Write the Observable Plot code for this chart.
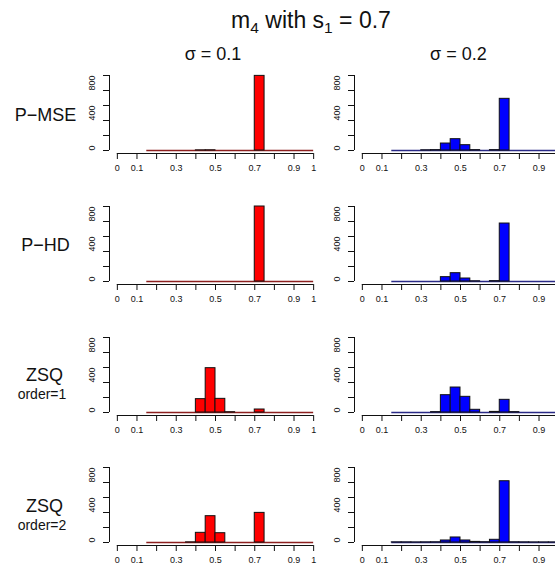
<!DOCTYPE html>
<html><head><meta charset="utf-8">
<script src="https://cdn.jsdelivr.net/npm/d3@7"></script>
<script src="https://cdn.jsdelivr.net/npm/@observablehq/plot@0.6"></script>
<style>
html,body{margin:0;padding:0;background:#fff;overflow:hidden;}
#wrap{position:relative;width:555px;height:570px;overflow:hidden;font-family:"Liberation Sans",Arial,Helvetica,sans-serif;background:#fff;}
.panel{position:absolute;width:257px;height:116px;}
#labels{position:absolute;left:0;top:0;pointer-events:none;}
</style></head><body><div id="wrap"></div>
<script>
// histogram bin edges (width 0.05)
const binEdges = [0.15,0.20,0.25,0.30,0.35,0.40,0.45,0.50,0.55,0.60,0.65,0.70,0.75,0.80,0.85,0.90,0.95,1.00];
// counts per bin (17 bins)
const pmse_s01 = [0,0,0,0,0,2,3,0,0,0,0,995,0,0,0,0,0];
const pmse_s02 = [0,0,0,3,5,93,151,71,5,0,5,689,0,0,0,0,0];
const phd_s01  = [0,0,0,0,0,0,0,0,0,0,0,1000,0,0,0,0,0];
const phd_s02  = [0,0,0,0,0,58,111,40,3,0,5,773,0,0,0,0,0];
const zsq1_s01 = [0,0,0,0,0,178,591,182,4,0,0,40,0,0,0,0,0];
const zsq1_s02 = [0,0,0,0,5,231,333,209,36,0,8,169,5,0,0,0,0];
const zsq2_s01 = [0,0,0,0,2,129,351,124,0,0,0,395,0,0,0,0,0];
const zsq2_s02 = [2,2,1,2,3,27,67,27,8,4,36,817,3,2,1,1,1];

const methods = ["P\u2212MSE","P\u2212HD","ZSQ","ZSQ"];
const methodSub = ["","","order=1","order=2"];
const sigmaLabels = ["\u03c3 = 0.1","\u03c3 = 0.2"];
const fills = ["#ff0000","#0000ff"];
const baseColors = ["#8c1f1f","#2a2a86"];
const xTicks = [0,0.1,0.2,0.3,0.4,0.5,0.6,0.7,0.8,0.9,1];
const xTickLabels = ["0","0.1","","0.3","","0.5","","0.7","","0.9","1"];
const yTicks = [0,200,400,600,800,1000];
const yTickLabels = ["0","","400","","800",""];

const counts = [[pmse_s01,pmse_s02],[phd_s01,phd_s02],[zsq1_s01,zsq1_s02],[zsq2_s01,zsq2_s02]];

const wrap = document.getElementById("wrap");
const font = '"Liberation Sans",Arial,Helvetica,sans-serif';
const W = 555;
const colStep = 245.4, rowStep = 130.6, left0 = 69, top0 = 67.3;
const pw = 257, mL = 40, mR = 5;
const xr = xTicks[xTicks.length-1]-xTicks[0], yr = yTicks[yTicks.length-1]-yTicks[0];
const xDom = [xTicks[0]-0.04*xr, xTicks[xTicks.length-1]+0.04*xr];
const yDom = [yTicks[0]-0.04*yr, yTicks[yTicks.length-1]+0.04*yr];

counts.forEach((row, r) => {
  row.forEach((vals, c) => {
    const left = left0 + c*colStep;
    const data = vals.map((n,i) => ({x1: binEdges[i], x2: binEdges[i+1], n}));
    // labels that would fall outside the window are not drawn (clipped in the reference)
    const xl = xTicks.map((v,i) => ({v, t: xTickLabels[i]})).filter(d => d.t &&
      left + mL + (d.v - xDom[0]) / (xDom[1]-xDom[0]) * (pw-mL-mR) + 3 < W);
    const yl = yTicks.map((v,i) => ({v, t: yTickLabels[i]})).filter(d => d.t);
    const svg = Plot.plot({
      width: pw, height: 116,
      marginLeft: mL, marginRight: mR, marginTop: 5, marginBottom: 30,
      x: {domain: xDom},
      y: {domain: yDom},
      style: {fontFamily: font, background: "transparent", overflow: "visible"},
      marks: [
        Plot.ruleY([0], {x1: binEdges[0], x2: binEdges[binEdges.length-1], stroke: baseColors[c], strokeWidth: 1.6}),
        Plot.rectY(data.filter(d => d.n > 0), {x1: "x1", x2: "x2", y: "n", fill: fills[c], stroke: "#111", strokeWidth: 1}),
        Plot.ruleY([yDom[0]], {x1: xTicks[0], x2: xTicks[xTicks.length-1], stroke: "#111"}),
        Plot.ruleX([xDom[0]], {y1: yTicks[0], y2: yTicks[yTicks.length-1], stroke: "#111"}),
        Plot.axisX({ticks: xTicks, tickFormat: () => "", tickSize: 6, label: null, stroke: "#111"}),
        Plot.axisY({ticks: yTicks, tickFormat: () => "", tickSize: 6, label: null, stroke: "#111"}),
        Plot.text(xl, {x: "v", text: "t", frameAnchor: "bottom", dy: 17, fontSize: 9, fill: "#111"}),
        Plot.text(yl, {y: "v", text: "t", frameAnchor: "left", dx: -17, rotate: -90, fontSize: 9, fill: "#111"})
      ]
    });
    const div = document.createElement("div");
    div.className = "panel";
    div.style.left = left + "px";
    div.style.top = (top0 + r*rowStep) + "px";
    div.appendChild(svg);
    wrap.appendChild(div);
  });
});

// text overlay
const ns = "http://www.w3.org/2000/svg";
const ov = document.createElementNS(ns, "svg");
ov.setAttribute("id","labels");
ov.setAttribute("width", 555); ov.setAttribute("height", 570);
ov.setAttribute("font-family", font);
function txt(x, y, s, size, extra) {
  const t = document.createElementNS(ns, "text");
  t.setAttribute("x", x); t.setAttribute("y", y);
  t.setAttribute("text-anchor","middle");
  t.setAttribute("font-size", size);
  t.setAttribute("fill", "#111");
  if (extra) for (const k in extra) t.setAttribute(k, extra[k]);
  if (s != null) t.textContent = s;
  ov.appendChild(t);
  return t;
}
// title with subscripts
const title = txt(311, 28, null, 23);
const parts = [["m",0],["4",1],[" with s",0],["1",1],[" = 0.7",0]];
let shifted = false;
parts.forEach(([s,sub]) => {
  const ts = document.createElementNS(ns, "tspan");
  if (sub) { ts.setAttribute("font-size", 15.5); ts.setAttribute("dy", 5); shifted = true; }
  else if (shifted) { ts.setAttribute("dy", -5); shifted = false; }
  ts.textContent = s;
  title.appendChild(ts);
});
sigmaLabels.forEach((s,c) => txt(213 + c*colStep, 60, s, 18));
methods.forEach((m,r) => {
  const mid = 112.7 + r*rowStep;
  if (methodSub[r]) {
    txt(44.5, mid + 1.5, m, 18, {"dominant-baseline":"central"});
    txt(42, mid + 20.5, methodSub[r], 14, {"dominant-baseline":"central"});
  } else {
    txt(45.5, mid + 2, m, 18, {"dominant-baseline":"central"});
  }
});
wrap.appendChild(ov);
</script></body></html>
